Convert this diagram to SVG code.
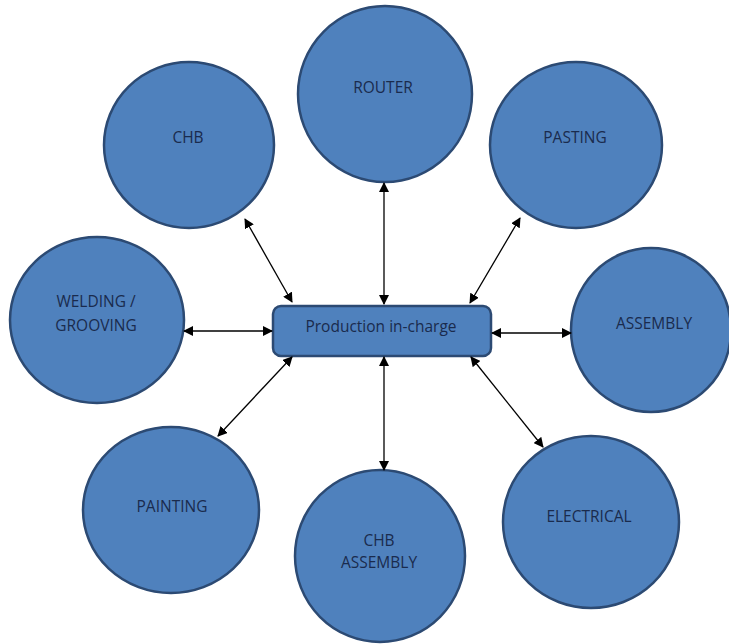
<svg xmlns="http://www.w3.org/2000/svg" width="729" height="644" viewBox="0 0 729 644">
<defs>
<marker id="ah" viewBox="0 0 10 10" refX="9" refY="5" markerWidth="10" markerHeight="10" markerUnits="userSpaceOnUse" orient="auto-start-reverse">
<path d="M0,0 L10,5 L0,10 z" fill="#000"/>
</marker>
<style>
.n{fill:#4f81bd;stroke:#2c4a73;stroke-width:2.5}
.t{font-family:"Open Sans","Noto Sans","Liberation Sans",sans-serif;font-size:15.5px;fill:#1a2b4d;text-anchor:middle}
.c line{stroke:#000;stroke-width:1.3;marker-start:url(#ah);marker-end:url(#ah)}
</style>
</defs>
<rect width="729" height="644" fill="#fff"/>
<g id="router"><ellipse class="n" cx="385" cy="94" rx="87" ry="88"/><text class="t" x="383" y="93">ROUTER</text></g>
<g id="chb"><ellipse class="n" cx="189" cy="145" rx="85" ry="83"/><text class="t" x="188" y="143">CHB</text></g>
<g id="pasting"><ellipse class="n" cx="576" cy="145" rx="86" ry="83"/><text class="t" x="575" y="143">PASTING</text></g>
<g id="welding"><ellipse class="n" cx="97" cy="320" rx="87" ry="83"/><text class="t" x="96" y="307">WELDING /</text><text class="t" x="96" y="331">GROOVING</text></g>
<g id="assembly"><ellipse class="n" cx="651" cy="330" rx="80" ry="82"/><text class="t" x="654" y="329">ASSEMBLY</text></g>
<g id="painting"><ellipse class="n" cx="171" cy="510" rx="88" ry="83"/><text class="t" x="172" y="512">PAINTING</text></g>
<g id="chb-assembly"><ellipse class="n" cx="380" cy="556" rx="85" ry="86"/><text class="t" x="379" y="546">CHB</text><text class="t" x="379" y="568">ASSEMBLY</text></g>
<g id="electrical"><ellipse class="n" cx="591" cy="522" rx="88" ry="86"/><text class="t" x="589" y="522">ELECTRICAL</text></g>
<g id="production"><rect class="n" x="273" y="306" width="218" height="50" rx="8" ry="8"/><text class="t" x="381" y="332">Production in-charge</text></g>
<g id="connectors" class="c">
<line x1="245" y1="219" x2="292" y2="302"/>
<line x1="384" y1="183" x2="384" y2="304"/>
<line x1="520" y1="218" x2="470" y2="303"/>
<line x1="184" y1="331" x2="272" y2="331"/>
<line x1="492" y1="333" x2="571" y2="333"/>
<line x1="218" y1="436" x2="292" y2="357"/>
<line x1="384" y1="357" x2="384" y2="470"/>
<line x1="471" y1="357" x2="543" y2="447"/>
</g>
</svg>
